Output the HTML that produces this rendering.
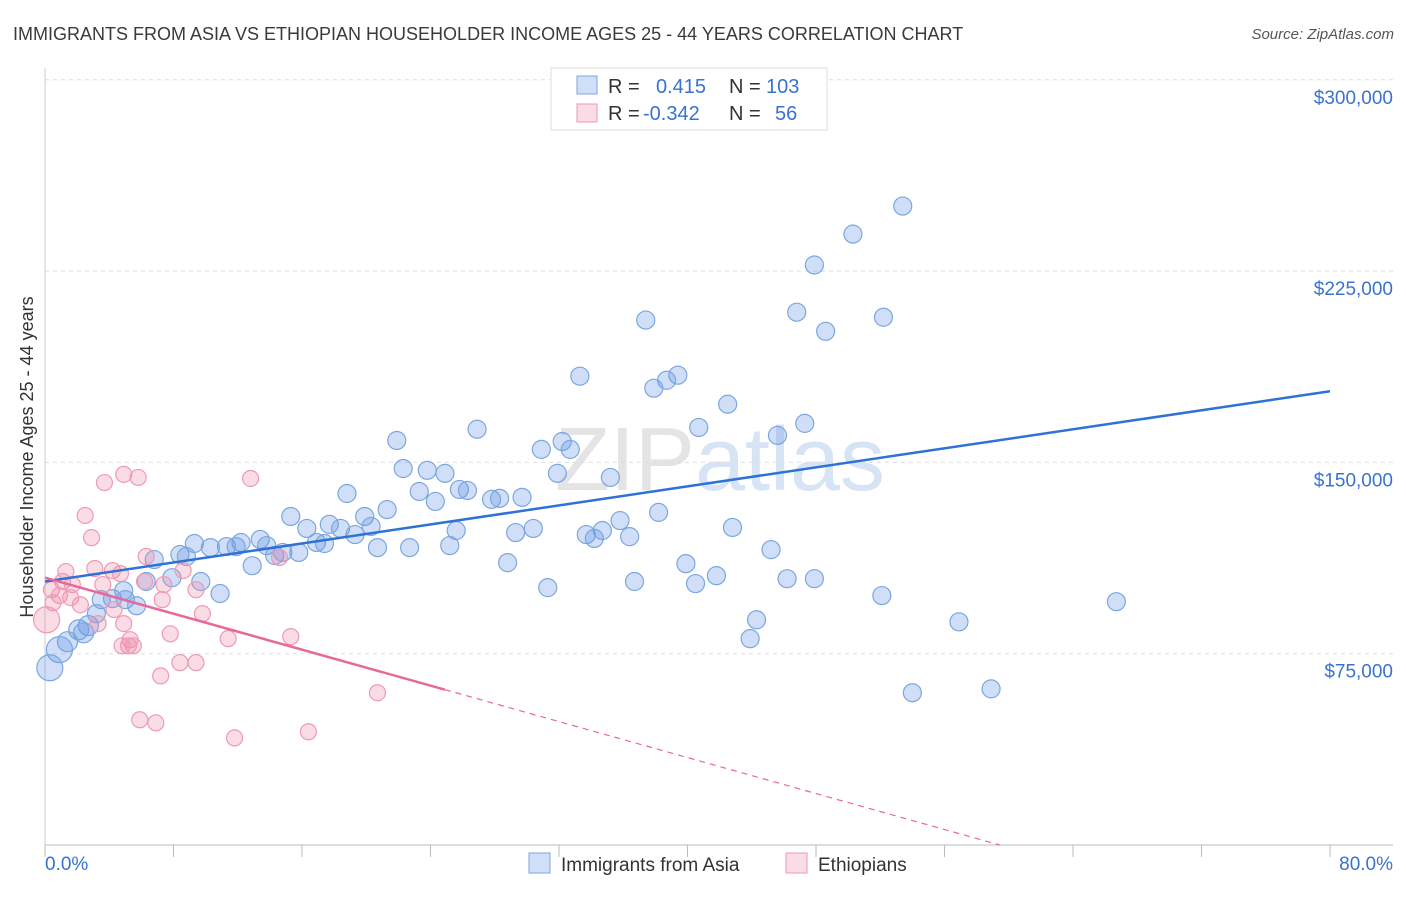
<!DOCTYPE html>
<html><head><meta charset="utf-8"><style>
body{margin:0;background:#fff;font-family:"Liberation Sans",sans-serif;}
svg text{font-family:"Liberation Sans",sans-serif;}
</style></head><body>
<svg id="chart" width="1406" height="892" xmlns="http://www.w3.org/2000/svg">
<text x="13" y="40" font-size="18" fill="#3a3a3a">IMMIGRANTS FROM ASIA VS ETHIOPIAN HOUSEHOLDER INCOME AGES 25 - 44 YEARS CORRELATION CHART</text>
<text x="1394" y="39" font-size="15" fill="#555" text-anchor="end" font-style="italic">Source: ZipAtlas.com</text>
<text x="720" y="490" font-size="90" text-anchor="middle" fill="#e4e4e4" font-family="Liberation Serif">ZIP<tspan fill="#d6e4f5" font-family="Liberation Sans">atlas</tspan></text>
<g id="grid"></g>
<g id="axes"></g>
<g id="pts"></g>
<g id="lines"></g>
<text transform="translate(33,457) rotate(-90)" font-size="18" fill="#333" text-anchor="middle">Householder Income Ages 25 - 44 years</text>
<g>
<rect x="551" y="68" width="276" height="62" fill="#fff" stroke="#ddd"/>
<rect x="577" y="76" width="20" height="18" fill="rgba(100,150,230,0.3)" stroke="#7aa7e0"/>
<rect x="577" y="104" width="20" height="18" fill="rgba(240,140,170,0.3)" stroke="#ef9ab5"/>
<text x="608" y="93" font-size="20" fill="#333">R =</text>
<text x="656" y="93" font-size="20" fill="#3a72d0">0.415</text>
<text x="729" y="93" font-size="20" fill="#333">N =</text>
<text x="766" y="93" font-size="20" fill="#3a72d0">103</text>
<text x="608" y="120" font-size="20" fill="#333">R =</text>
<text x="643" y="120" font-size="20" fill="#3a72d0">-0.342</text>
<text x="729" y="120" font-size="20" fill="#333">N =</text>
<text x="775" y="120" font-size="20" fill="#3a72d0">56</text>
</g>
<g>
<rect x="529" y="853" width="21" height="20" fill="rgba(100,150,230,0.3)" stroke="#7aa7e0"/>
<text x="561" y="871" font-size="19" fill="#333">Immigrants from Asia</text>
<rect x="786" y="853" width="21" height="20" fill="rgba(240,140,170,0.3)" stroke="#ef9ab5"/>
<text x="818" y="871" font-size="19" fill="#333">Ethiopians</text>
</g>
</svg>
<script>
const yTicks=[75000,150000,225000,300000];
const yTickLabels=["$75,000","$150,000","$225,000","$300,000"];
const xTickLabels=["0.0%","80.0%"];
const asiaX=[53.4,50.3,47.9,46.8,48.6,52.2,37.4,33.3,39.4,38.7,37.9,42.5,40.7,47.3,45.6,26.9,21.9,32.2,30.9,32.7,22.3,23.8,24.9,31.9,35.2,23.3,25.8,26.3,24.3,27.8,28.3,29.7,18.8,38.2,15.3,21.3,19.9,17.7,16.3,18.4,20.3,25.6,29.3,30.4,35.8,34.7,33.7,34.2,36.4,42.8,19.3,16.9,17.4,20.7,22.7,25.2,13.4,13.8,12.2,11.3,11.9,10.3,9.3,8.4,8.8,6.8,14.3,14.8,15.8,12.9,28.8,39.9,45.2,41.8,46.2,40.5,36.7,47.9,31.3,9.7,7.9,6.3,10.9,4.9,3.5,4.2,5.0,5.7,52.1,66.7,44.3,56.9,43.9,2.7,3.2,2.1,2.4,1.4,0.9,0.3,54.0,58.9];
const asiaY=[250.5,239.5,227.4,208.9,201.4,206.9,205.8,183.8,184.2,182.2,179.1,172.8,163.7,165.3,160.6,163.0,158.6,158.2,155.1,155.1,147.6,146.9,145.7,145.7,144.1,138.6,139.4,139.0,134.7,135.5,135.9,136.3,137.8,130.4,128.8,131.5,128.8,125.7,124.1,124.1,124.9,123.3,122.5,124.1,127.2,123.3,121.7,120.2,120.9,124.5,121.7,118.6,118.2,116.6,116.6,117.4,119.8,117.4,118.6,117.0,117.0,116.6,118.2,113.9,113.1,111.9,113.5,114.7,114.7,109.5,110.7,110.3,115.8,105.6,104.4,102.5,103.3,104.4,100.9,103.3,104.8,103.3,98.6,99.7,96.2,96.6,96.2,93.8,97.8,95.4,88.3,87.5,80.9,86.0,90.7,84.4,83.2,79.7,76.6,69.5,59.7,61.2];
const ethX=[4.9,5.8,3.7,12.8,2.5,2.9,6.3,1.3,3.1,4.2,4.7,14.6,8.6,1.1,1.7,3.6,0.4,0.9,0.5,1.6,6.2,7.4,9.4,2.2,4.3,7.3,9.8,4.9,3.3,0.1,7.8,5.3,5.2,5.5,4.8,11.4,15.3,8.4,9.4,7.2,20.7,5.9,6.9,11.8,16.4];
const ethY=[145.3,144.1,142.1,143.7,129.2,120.5,113.1,107.2,108.4,107.6,106.4,112.7,107.6,103.3,102.1,102.1,100.1,97.8,95.0,97.0,103.3,102.1,100.1,94.2,92.3,96.2,90.7,86.8,86.8,88.3,82.8,80.5,78.1,78.1,78.1,80.9,81.7,71.5,71.5,66.3,59.7,49.1,47.9,42.0,44.4];
const asiaTrend=[103.3,177.9];
const ethTrend=[104.8,60.9];
const ethSolidEnd=24.9;
const NS="http://www.w3.org/2000/svg";
const X=v=>45+v/80*1285;
const Y=k=>845-k/75*191.3;
function mk(t,a,p){const e=document.createElementNS(NS,t);for(const k in a)e.setAttribute(k,a[k]);p.appendChild(e);return e;}
const grid=document.getElementById('grid'),axes=document.getElementById('axes');
yTicks.forEach((t,i)=>{const y=Y(t/1000);
const l=mk('line',{x1:45,x2:1393,y1:y,y2:y,stroke:'#ddd','stroke-dasharray':'4,4'},grid);


const tx=mk('text',{x:1393,y:y+24,'font-size':19,fill:'#3a72d0','text-anchor':'end'},axes);


tx.textContent=yTickLabels[i];});
const ax=mk('line',{x1:45,x2:1393,y1:845,y2:845,stroke:'#bbb'},axes);


const ay=mk('line',{x1:45,x2:45,y1:68,y2:845,stroke:'#ccc'},axes);


for(let i=0;i<=10;i++){const tk=mk('line',{x1:X(i*8),x2:X(i*8),y1:845,y2:857,stroke:'#bbb'},axes);

}
const xl0=mk('text',{x:45,y:870,'font-size':19,fill:'#3a72d0'},axes);


xl0.textContent=xTickLabels[0];
const xl1=mk('text',{x:1393,y:870,'font-size':19,fill:'#3a72d0','text-anchor':'end'},axes);


xl1.textContent=xTickLabels[1];
const pts=document.getElementById('pts');
asiaX.forEach((x,i)=>{const r=x<1?13:(x<3?10:9);
const c=mk('circle',{cx:X(x),cy:Y(asiaY[i]),r:r,fill:'rgba(100,150,230,0.3)',stroke:'#7aa7e0','stroke-width':1.2},pts);

});
ethX.forEach((x,i)=>{const r=x<0.3?13:8;
const c=mk('circle',{cx:X(x),cy:Y(ethY[i]),r:r,fill:'rgba(240,140,170,0.3)',stroke:'#ef9ab5','stroke-width':1.2},pts);

});
const lines=document.getElementById('lines');
const bl=mk('line',{x1:X(0),y1:Y(asiaTrend[0]),x2:X(80),y2:Y(asiaTrend[1]),stroke:'#2f72d6','stroke-width':2.5},lines);


const slope=(ethTrend[1]-ethTrend[0])/ethSolidEnd;
const pl=mk('line',{x1:X(0),y1:Y(ethTrend[0]),x2:X(ethSolidEnd),y2:Y(ethTrend[1]),stroke:'#e8689a','stroke-width':2.5},lines);


const endX=-ethTrend[0]/slope;
const pd=mk('line',{x1:X(ethSolidEnd),y1:Y(ethTrend[1]),x2:X(endX),y2:Y(0),stroke:'#e8689a','stroke-width':1.2,'stroke-dasharray':'6,5'},lines);


</script>
</body></html>
